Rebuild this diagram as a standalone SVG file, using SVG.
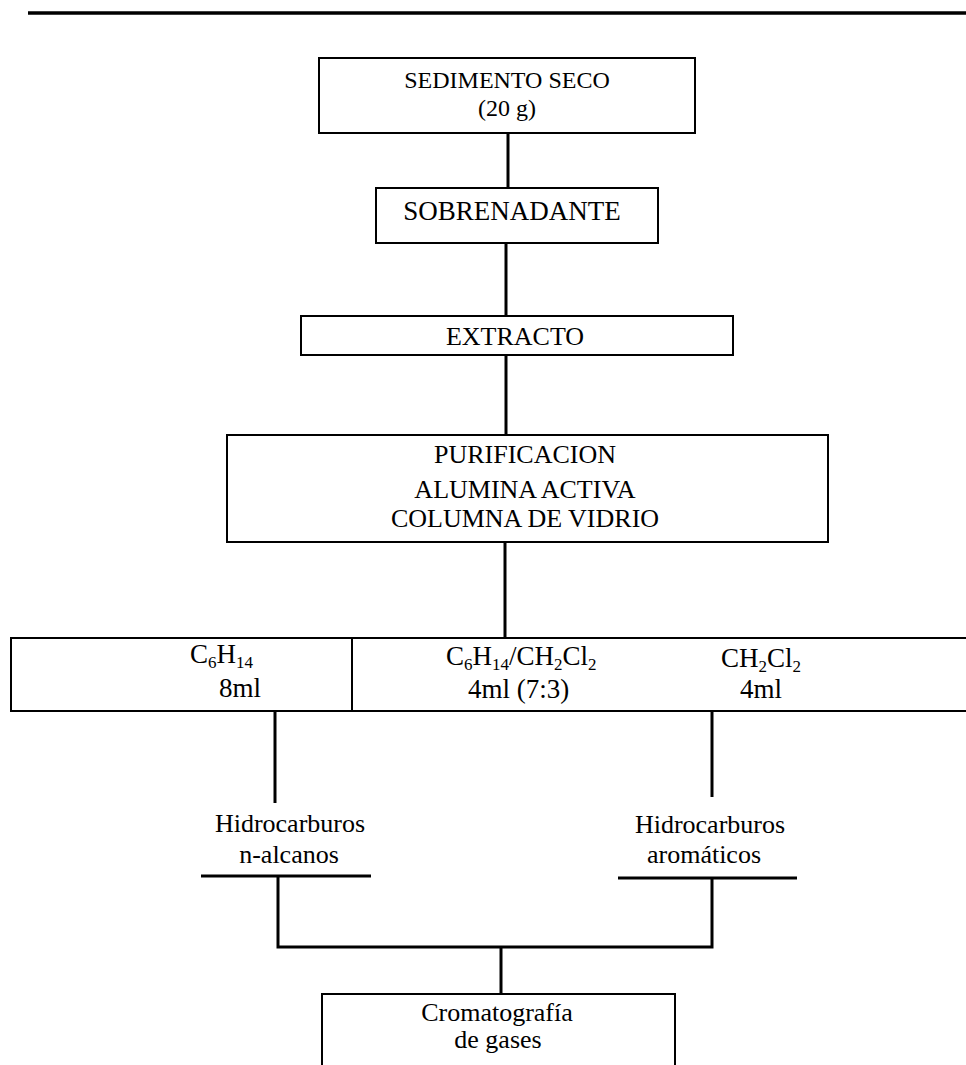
<svg xmlns="http://www.w3.org/2000/svg" width="966" height="1065" viewBox="0 0 966 1065">
<style>
  .box { fill: none; stroke: #000; stroke-width: 2; }
  .wire { fill: none; stroke: #000; stroke-width: 3; }
  .t { font-family: "Liberation Serif", "Times New Roman", serif; font-size: 26px; fill: #000; }
  .c { text-anchor: middle; }
  .f { font-size: 27px; }
  .s { font-size: 17px; }
</style>
<rect width="966" height="1065" fill="#fff"/>
<g id="header-rule">
  <path d="M28 13 H966" stroke="#000" stroke-width="3.5" fill="none"/>
</g>
<g id="connectors">
  <path class="wire" d="M508 133 V188"/>
  <path class="wire" d="M506 243 V316"/>
  <path class="wire" d="M506 355 V435"/>
  <path class="wire" d="M505 542 V638"/>
  <path class="wire" d="M275 711 V803"/>
  <path class="wire" d="M712 711 V797"/>
  <path class="wire" d="M278 876 V947 H712 V878"/>
  <path class="wire" d="M501 947 V994"/>
</g>
<g id="sedimento">
  <rect class="box" x="319" y="58" width="376" height="75"/>
  <text class="t c" x="507" y="88" style="font-size:24px">SEDIMENTO SECO</text>
  <text class="t c" x="507" y="116" style="font-size:24px">(20 g)</text>
</g>
<g id="sobrenadante">
  <rect class="box" x="376" y="188" width="282" height="55"/>
  <text class="t c" x="512" y="220" style="font-size:27px">SOBRENADANTE</text>
</g>
<g id="extracto">
  <rect class="box" x="301" y="316" width="432" height="39"/>
  <text class="t c" x="515" y="345">EXTRACTO</text>
</g>
<g id="purificacion">
  <rect class="box" x="227" y="435" width="601" height="107"/>
  <text class="t c" x="525" y="463">PURIFICACION</text>
  <text class="t c" x="525" y="498">ALUMINA ACTIVA</text>
  <text class="t c" x="525" y="527">COLUMNA DE VIDRIO</text>
</g>
<g id="fracciones">
  <path class="box" d="M966 638 H11 V711 H966"/>
  <path class="box" d="M352 638 V711"/>
  <text class="t f" x="190" y="663">C<tspan class="s" dy="5">6</tspan><tspan dy="-5">H</tspan><tspan class="s" dy="5">14</tspan></text>
  <text class="t f" x="219" y="697">8ml</text>
  <text class="t f" x="446" y="665">C<tspan class="s" dy="5">6</tspan><tspan dy="-5">H</tspan><tspan class="s" dy="5">14</tspan><tspan dy="-5">/CH</tspan><tspan class="s" dy="5">2</tspan><tspan dy="-5">Cl</tspan><tspan class="s" dy="5">2</tspan></text>
  <text class="t f" x="468" y="698">4ml (7:3)</text>
  <text class="t f" x="721" y="667">CH<tspan class="s" dy="5">2</tspan><tspan dy="-5">Cl</tspan><tspan class="s" dy="5">2</tspan></text>
  <text class="t f" x="740" y="698">4ml</text>
</g>
<g id="alcanos">
  <text class="t c" x="290" y="832">Hidrocarburos</text>
  <text class="t c" x="289" y="863">n-alcanos</text>
  <path class="wire" d="M201 876 H371"/>
</g>
<g id="aromaticos">
  <text class="t c" x="710" y="833">Hidrocarburos</text>
  <text class="t c" x="704" y="863">aromáticos</text>
  <path class="wire" d="M618 878 H797"/>
</g>
<g id="cromatografia">
  <path class="box" d="M322 1066 V994 H675 V1066"/>
  <text class="t c" x="497" y="1021">Cromatografía</text>
  <text class="t c" x="498" y="1048">de gases</text>
</g>
</svg>
